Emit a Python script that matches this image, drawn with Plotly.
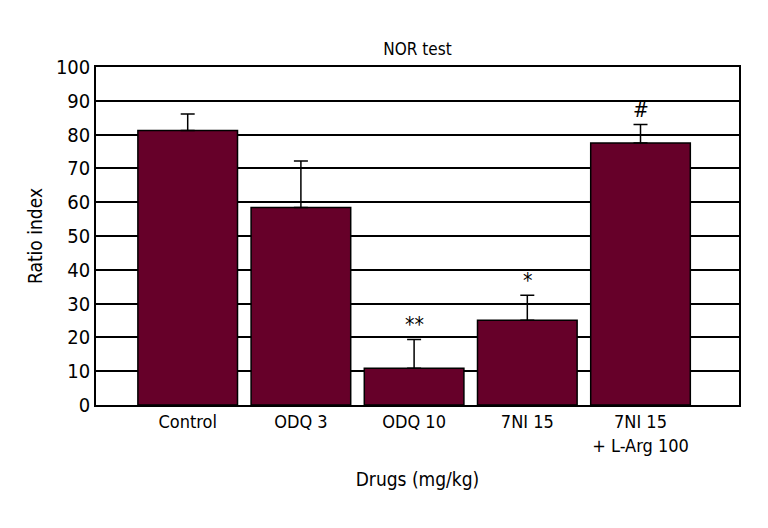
import plotly.graph_objects as go

drugs = ["Control", "ODQ 3", "ODQ 10", "7NI 15", "7NI 15<br>+ L-Arg 100"]
ratio_index = [81.2, 58.4, 10.9, 25.1, 77.5]
sem = [4.9, 13.8, 8.5, 7.4, 5.5]
marks = ["", "", "**", "*", "#"]

font = "DejaVu Sans Condensed, Liberation Sans Narrow, sans-serif"

fig = go.Figure()
fig.add_trace(go.Bar(
    x=drugs, y=ratio_index,
    width=0.88,
    marker=dict(color="#660029", line=dict(color="black", width=1.5)),
    error_y=dict(type="data", symmetric=False, array=sem,
                 arrayminus=[0] * len(sem),
                 color="black", thickness=1.5, width=7),
    showlegend=False,
))

for d, v, e, m in zip(drugs, ratio_index, sem, marks):
    if m:
        fig.add_annotation(x=d, y=v + e, text=m, showarrow=False,
                           yanchor="bottom", yshift=0,
                           font=dict(family=font, size=21, color="black"))

# the page body adds an 8px offset, so margins are compensated
fig.update_layout(
    width=768, height=528,
    margin=dict(l=88, r=37, t=59, b=131),
    paper_bgcolor="white", plot_bgcolor="white",
    font=dict(family=font, color="black"),
    title=dict(text="NOR test", x=0.5, xref="paper", xanchor="center",
               y=0.922, yanchor="middle", font=dict(family=font, size=17)),
)
fig.update_xaxes(
    range=[-0.81, 4.87],
    showline=True, mirror=True, linecolor="black", linewidth=1.5,
    ticks="", tickfont=dict(size=18),
    title=dict(text="Drugs (mg/kg)", font=dict(size=19), standoff=18),
)
fig.update_yaxes(
    range=[0, 100], dtick=10,
    showline=True, mirror=True, linecolor="black", linewidth=1.5,
    showgrid=True, gridcolor="black", gridwidth=1.5,
    zeroline=False,
    ticks="", tickfont=dict(size=20),
    title=dict(text="Ratio index", font=dict(size=19), standoff=8),
)

fig.write_html("out.html")
